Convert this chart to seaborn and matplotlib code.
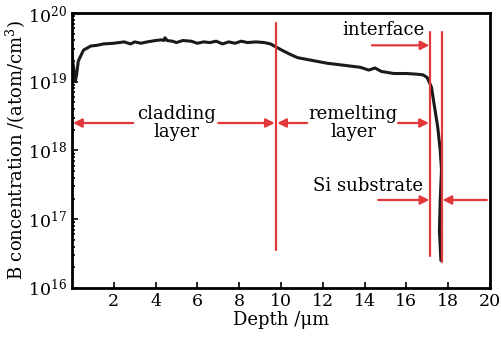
import numpy as np
import pandas as pd
import seaborn as sns
import matplotlib.pyplot as plt

# Profil de concentration de B
depth = [0.0, 0.08, 0.15, 0.22, 0.3, 0.55, 0.9, 1.2, 1.5, 2.0, 2.5, 2.8, 3.0, 3.3,
         3.6, 4.0, 4.3, 4.4, 4.45, 4.55, 4.8, 5.0, 5.3, 5.7, 6.0, 6.3, 6.6, 6.9,
         7.2, 7.5, 7.8, 8.1, 8.4, 8.8, 9.2, 9.5, 9.8, 10.1, 10.5, 10.8, 11.5,
         12.2, 13.0, 13.8, 14.2, 14.5, 14.8, 15.4, 16.0, 16.5, 16.8, 17.0, 17.2,
         17.37, 17.5, 17.62, 17.68, 17.65, 17.62, 17.58, 17.62, 17.65]
log_conc = [19.38, 19.2, 19.0, 19.1, 19.3, 19.46, 19.52, 19.53, 19.55, 19.56, 19.58,
            19.55, 19.58, 19.56, 19.58, 19.6, 19.61, 19.6, 19.64, 19.6, 19.59, 19.57,
            19.6, 19.59, 19.56, 19.58, 19.57, 19.59, 19.55, 19.58, 19.56, 19.59,
            19.57, 19.58, 19.57, 19.55, 19.5, 19.45, 19.39, 19.35, 19.31, 19.27,
            19.24, 19.21, 19.17, 19.2, 19.15, 19.12, 19.12, 19.11, 19.1, 19.06,
            18.92, 18.59, 18.34, 18.0, 17.72, 17.5, 17.28, 16.84, 16.6, 16.4]
conc = [10 ** v for v in log_conc]

# Limites des couches (um)
boundaries = [9.76, 17.13, 17.7]
boundary_top = [10 ** 19.855, 10 ** 19.72, 10 ** 19.72]
boundary_bottom = [10 ** 16.55, 10 ** 16.47, 10 ** 16.38]

xticks = [2, 4, 6, 8, 10, 12, 14, 16, 18, 20]

df = pd.DataFrame({'depth': depth, 'conc': conc})

sns.set_style('ticks')
plt.rcParams['font.family'] = ['DejaVu Serif']
plt.rcParams['mathtext.fontset'] = 'dejavuserif'
plt.rcParams['text.color'] = 'black'
plt.rcParams['axes.labelcolor'] = 'black'
plt.rcParams['xtick.color'] = 'black'
plt.rcParams['ytick.color'] = 'black'

red = '#e2383a'
fig = plt.figure(figsize=(5.01, 3.38), dpi=100)
ax = fig.add_axes([0.1437, 0.148, 0.8343, 0.8135])

sns.lineplot(data=df, x='depth', y='conc', sort=False, estimator=None,
             color='#1a1a1a', linewidth=2.2, ax=ax)
ax.set_yscale('log')
ax.set_xlim(0, 20)
ax.set_ylim(1e16, 1e20)
ax.set_xticks(xticks)
ax.set_xticklabels([str(t) for t in xticks])

for b, t, bt in zip(boundaries, boundary_top, boundary_bottom):
    ax.plot([b, b], [bt, t], color=red, linewidth=1.6)

arrow = dict(arrowstyle='-|>', color=red, lw=1.6, mutation_scale=13,
             shrinkA=0, shrinkB=0)
y_layer = 10 ** 18.4
ax.annotate('', xy=(0.05, y_layer), xytext=(2.93, y_layer), arrowprops=arrow)
ax.annotate('', xy=(9.7, y_layer), xytext=(7.0, y_layer), arrowprops=arrow)
ax.annotate('', xy=(9.82, y_layer), xytext=(11.25, y_layer), arrowprops=arrow)
ax.annotate('', xy=(17.08, y_layer), xytext=(15.6, y_layer), arrowprops=arrow)
y_if = 10 ** 19.53
ax.annotate('', xy=(17.1, y_if), xytext=(14.35, y_if), arrowprops=arrow)
y_si = 10 ** 17.28
ax.annotate('', xy=(17.1, y_si), xytext=(14.65, y_si), arrowprops=arrow)
ax.annotate('', xy=(17.73, y_si), xytext=(19.85, y_si), arrowprops=arrow)

fs = 13
ax.text(5.02, y_layer, 'cladding\nlayer', ha='center', va='center',
        fontsize=fs, linespacing=1.0)
ax.text(13.45, y_layer, 'remelting\nlayer', ha='center', va='center',
        fontsize=fs, linespacing=1.0)
ax.text(14.9, 10 ** 19.75, 'interface', ha='center', va='center', fontsize=fs)
ax.text(16.8, 10 ** 17.48, 'Si substrate', ha='right', va='center', fontsize=fs)

ax.set_xlabel('Depth /μm', fontsize=fs, labelpad=1)
ax.set_ylabel('B concentration /(atom/cm$^3$)', fontsize=fs, labelpad=0)
ax.tick_params(axis='both', which='both', direction='in', labelsize=12.5,
               top=False, right=False, width=1.2)
ax.tick_params(axis='x', which='minor', bottom=False)
ax.tick_params(which='major', length=4)
ax.tick_params(which='minor', length=2.5)
for s in ax.spines.values():
    s.set_linewidth(2)
    s.set_color('black')

plt.savefig('out.png', dpi=100)
